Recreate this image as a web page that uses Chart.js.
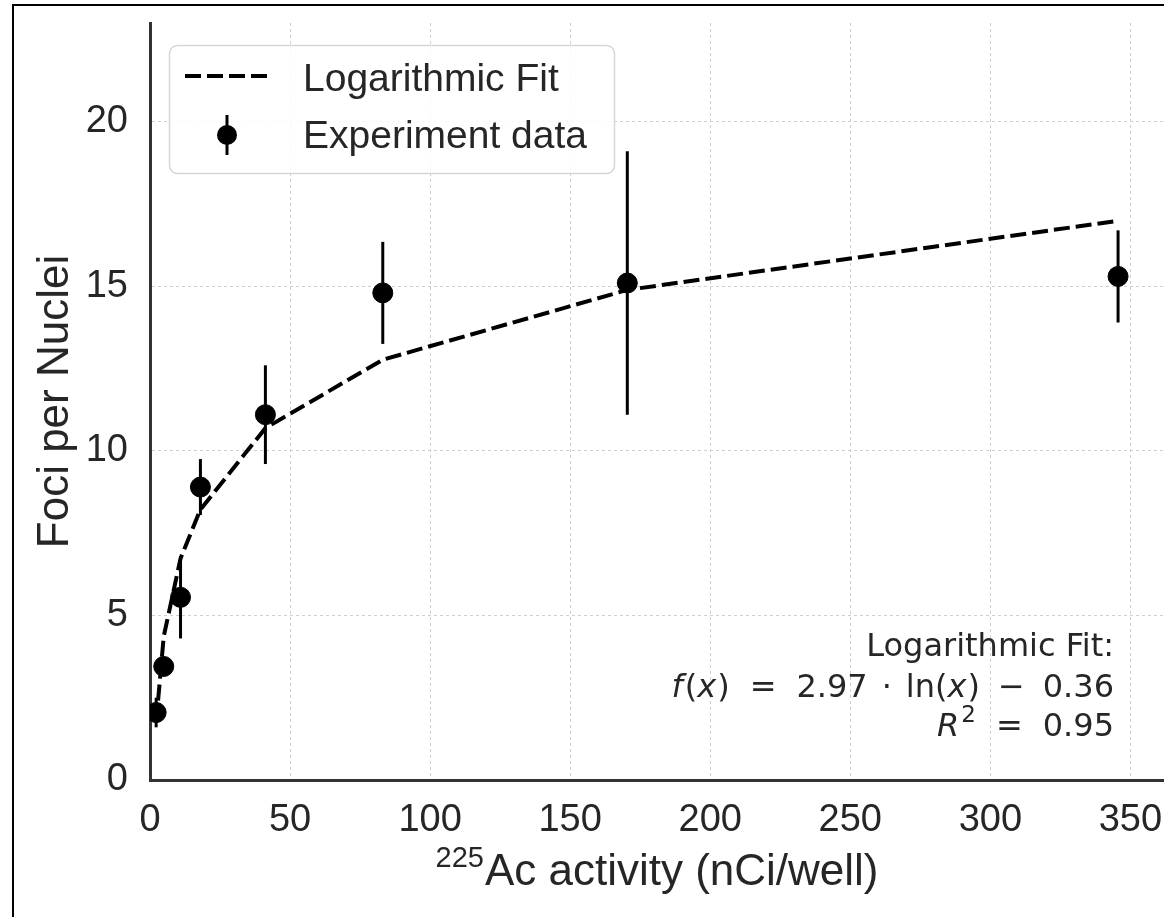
<!DOCTYPE html>
<html>
<head>
<meta charset="utf-8">
<script src="https://cdn.jsdelivr.net/npm/chart.js@4.4.1/dist/chart.umd.min.js"></script>
<style>
  html, body { margin: 0; padding: 0; background: #fff; }
  #wrap { width: 1164px; height: 917px; }
</style>
</head>
<body>
<div id="wrap"><canvas id="fociChart" width="1164" height="917"></canvas></div>
<script>
// Werte
const activity = [2.2, 4.9, 10.9, 18.0, 41.2, 83.1, 170.4, 345.6];
const fociMean = [2.05, 3.45, 5.55, 8.9, 11.1, 14.8, 15.1, 15.3];
const fociErr = [0.45, 0.25, 1.25, 0.85, 1.5, 1.55, 4.0, 1.4];
const fitValues = [1.75, 4.36, 6.73, 8.22, 10.69, 12.77, 14.89, 16.99];
const xTicks = [0, 50, 100, 150, 200, 250, 300, 350];
const yTicks = [0, 5, 10, 15, 20];
const legendLabels = ['Logarithmic Fit', 'Experiment data'];

const TEXT = '#262626';
const SANS = '"Liberation Sans", Arial, sans-serif';
const DEJAVU = '"DejaVu Sans", sans-serif';

// Rahmen um die ganze Abbildung
const framePlugin = {
    id: 'frame',
    beforeDraw(chart) {
        const ctx = chart.ctx;
        ctx.save();
        ctx.fillStyle = '#fff';
        ctx.fillRect(0, 0, chart.width, chart.height);
        ctx.strokeStyle = '#000';
        ctx.lineWidth = 2;
        ctx.beginPath();
        ctx.moveTo(13, chart.height);
        ctx.lineTo(13, 5);
        ctx.lineTo(chart.width, 5);
        ctx.stroke();
        ctx.restore();
    }
};

// Fehlerbalken zwischen Fit-Linie und Punkten zeichnen
const errorBarPlugin = {
    id: 'errorBars',
    beforeDatasetDraw(chart, args) {
        if (args.index !== 1) return;
        const { ctx, scales: { x, y }, chartArea } = chart;
        ctx.save();
        ctx.beginPath();
        ctx.rect(chartArea.left, chartArea.top, chartArea.right - chartArea.left, chartArea.bottom - chartArea.top);
        ctx.clip();
        ctx.strokeStyle = '#000';
        ctx.lineWidth = 3;
        activity.forEach((a, i) => {
            const px = x.getPixelForValue(a);
            ctx.beginPath();
            ctx.moveTo(px, y.getPixelForValue(fociMean[i] - fociErr[i]));
            ctx.lineTo(px, y.getPixelForValue(fociMean[i] + fociErr[i]));
            ctx.stroke();
        });
        ctx.restore();
    }
};

// Text in Stücken zeichnen (kursiv / normal / Abstand), rechtsbündig
function drawMathLine(ctx, parts, right, baseline) {
    const fontOf = p => (p.i ? 'italic ' : '') + (p.s || 32) + 'px ' + DEJAVU;
    let total = 0;
    parts.forEach(p => {
        if (p.gap) { total += p.gap; return; }
        ctx.font = fontOf(p);
        total += ctx.measureText(p.t).width;
    });
    let x = right - total;
    ctx.textAlign = 'left';
    parts.forEach(p => {
        if (p.gap) { x += p.gap; return; }
        ctx.font = fontOf(p);
        ctx.fillText(p.t, x, baseline - (p.up || 0));
        x += ctx.measureText(p.t).width;
    });
}

// Legende, Achsentitel und Fit-Text
const overlayPlugin = {
    id: 'overlay',
    afterDraw(chart) {
        const ctx = chart.ctx;
        const area = chart.chartArea;
        ctx.save();

        // Legende
        ctx.beginPath();
        ctx.roundRect(169.5, 45.5, 445, 128, 8);
        ctx.fillStyle = 'rgba(255,255,255,0.85)';
        ctx.fill();
        ctx.strokeStyle = '#d6d6d6';
        ctx.lineWidth = 1.5;
        ctx.stroke();

        ctx.strokeStyle = '#000';
        ctx.lineWidth = 4;
        ctx.setLineDash([16, 6]);
        ctx.beginPath();
        ctx.moveTo(185, 76);
        ctx.lineTo(268, 76);
        ctx.stroke();
        ctx.setLineDash([]);

        ctx.lineWidth = 3;
        ctx.beginPath();
        ctx.moveTo(227, 115);
        ctx.lineTo(227, 155);
        ctx.stroke();
        ctx.beginPath();
        ctx.arc(227, 135, 10, 0, Math.PI * 2);
        ctx.fillStyle = '#000';
        ctx.fill();

        ctx.fillStyle = TEXT;
        ctx.font = '39px ' + SANS;
        ctx.textAlign = 'left';
        ctx.textBaseline = 'alphabetic';
        ctx.fillText(legendLabels[0], 303, 91);
        ctx.fillText(legendLabels[1], 303, 148);

        // x-Achsentitel mit hochgestellter Massenzahl
        const main = 'Ac activity (nCi/well)';
        ctx.font = '44px ' + SANS;
        const wMain = ctx.measureText(main).width;
        ctx.font = '29px ' + SANS;
        const wSup = ctx.measureText('225').width;
        const cx = (area.left + area.right) / 2;
        const sx = cx - (wMain + wSup + 1) / 2;
        ctx.fillText('225', sx, 867);
        ctx.font = '44px ' + SANS;
        ctx.fillText(main, sx + wSup + 1, 885);

        // Fit-Beschriftung rechts unten
        const right = 1114;
        ctx.textAlign = 'right';
        ctx.font = '32px ' + DEJAVU;
        ctx.fillText('Logarithmic Fit:', right, 656);

        drawMathLine(ctx, [
            { t: 'f', i: true }, { gap: 2 }, { t: '(' }, { t: 'x', i: true }, { gap: 1 }, { t: ')' },
            { gap: 20 }, { t: '=' }, { gap: 20 },
            { t: '2.97' }, { gap: 14 }, { t: '\u00b7' }, { gap: 14 },
            { t: 'ln(' }, { t: 'x', i: true }, { gap: 1 }, { t: ')' },
            { gap: 18 }, { t: '\u2212' }, { gap: 18 }, { t: '0.36' }
        ], right, 697);

        drawMathLine(ctx, [
            { t: 'R', i: true }, { gap: 2 }, { t: '2', s: 23, up: 14 },
            { gap: 20 }, { t: '=' }, { gap: 20 }, { t: '0.95' }
        ], right, 736);

        ctx.restore();
    }
};

const gridStyle = {
    color: '#cfcfcf',
    lineWidth: 1,
    drawTicks: false
};

new Chart(document.getElementById('fociChart'), {
    type: 'scatter',
    data: {
        datasets: [{
            type: 'line',
            label: legendLabels[0],
            data: activity.map((a, i) => ({ x: a, y: fitValues[i] })),
            borderColor: '#000',
            borderWidth: 4,
            borderDash: [16, 6],
            pointRadius: 0,
            fill: false,
            tension: 0,
            clip: 0
        }, {
            label: legendLabels[1],
            data: activity.map((a, i) => ({ x: a, y: fociMean[i] })),
            backgroundColor: '#000',
            borderColor: '#000',
            pointRadius: 10,
            pointHoverRadius: 10,
            clip: 0
        }]
    },
    options: {
        responsive: false,
        animation: false,
        devicePixelRatio: 1,
        layout: { autoPadding: false, padding: { top: 23, left: 0, right: 0, bottom: 0 } },
        plugins: {
            legend: { display: false },
            tooltip: { enabled: false }
        },
        scales: {
            x: {
                type: 'linear',
                min: 0,
                max: 362,
                afterFit(scale) {
                    scale.height = 137;
                    scale.paddingLeft = 0;
                    scale.paddingRight = 0;
                },
                afterBuildTicks(scale) { scale.ticks = xTicks.map(v => ({ value: v })); },
                grid: gridStyle,
                border: { display: true, color: '#333', width: 3, dash: [3, 3] },
                ticks: {
                    color: TEXT,
                    padding: 18,
                    font: { family: SANS, size: 38 }
                }
            },
            y: {
                type: 'linear',
                min: 0,
                max: 23,
                afterFit(scale) {
                    scale.width = 150;
                    scale.paddingTop = 0;
                    scale.paddingBottom = 0;
                },
                afterBuildTicks(scale) { scale.ticks = yTicks.map(v => ({ value: v })); },
                grid: gridStyle,
                border: { display: true, color: '#333', width: 3, dash: [3, 3] },
                ticks: {
                    color: TEXT,
                    padding: 22,
                    font: { family: SANS, size: 38 }
                },
                title: {
                    display: true,
                    text: 'Foci per Nuclei',
                    color: TEXT,
                    padding: { top: 29, bottom: 0 },
                    font: { family: SANS, size: 44 }
                }
            }
        }
    },
    plugins: [framePlugin, errorBarPlugin, overlayPlugin]
});
</script>
</body>
</html>
